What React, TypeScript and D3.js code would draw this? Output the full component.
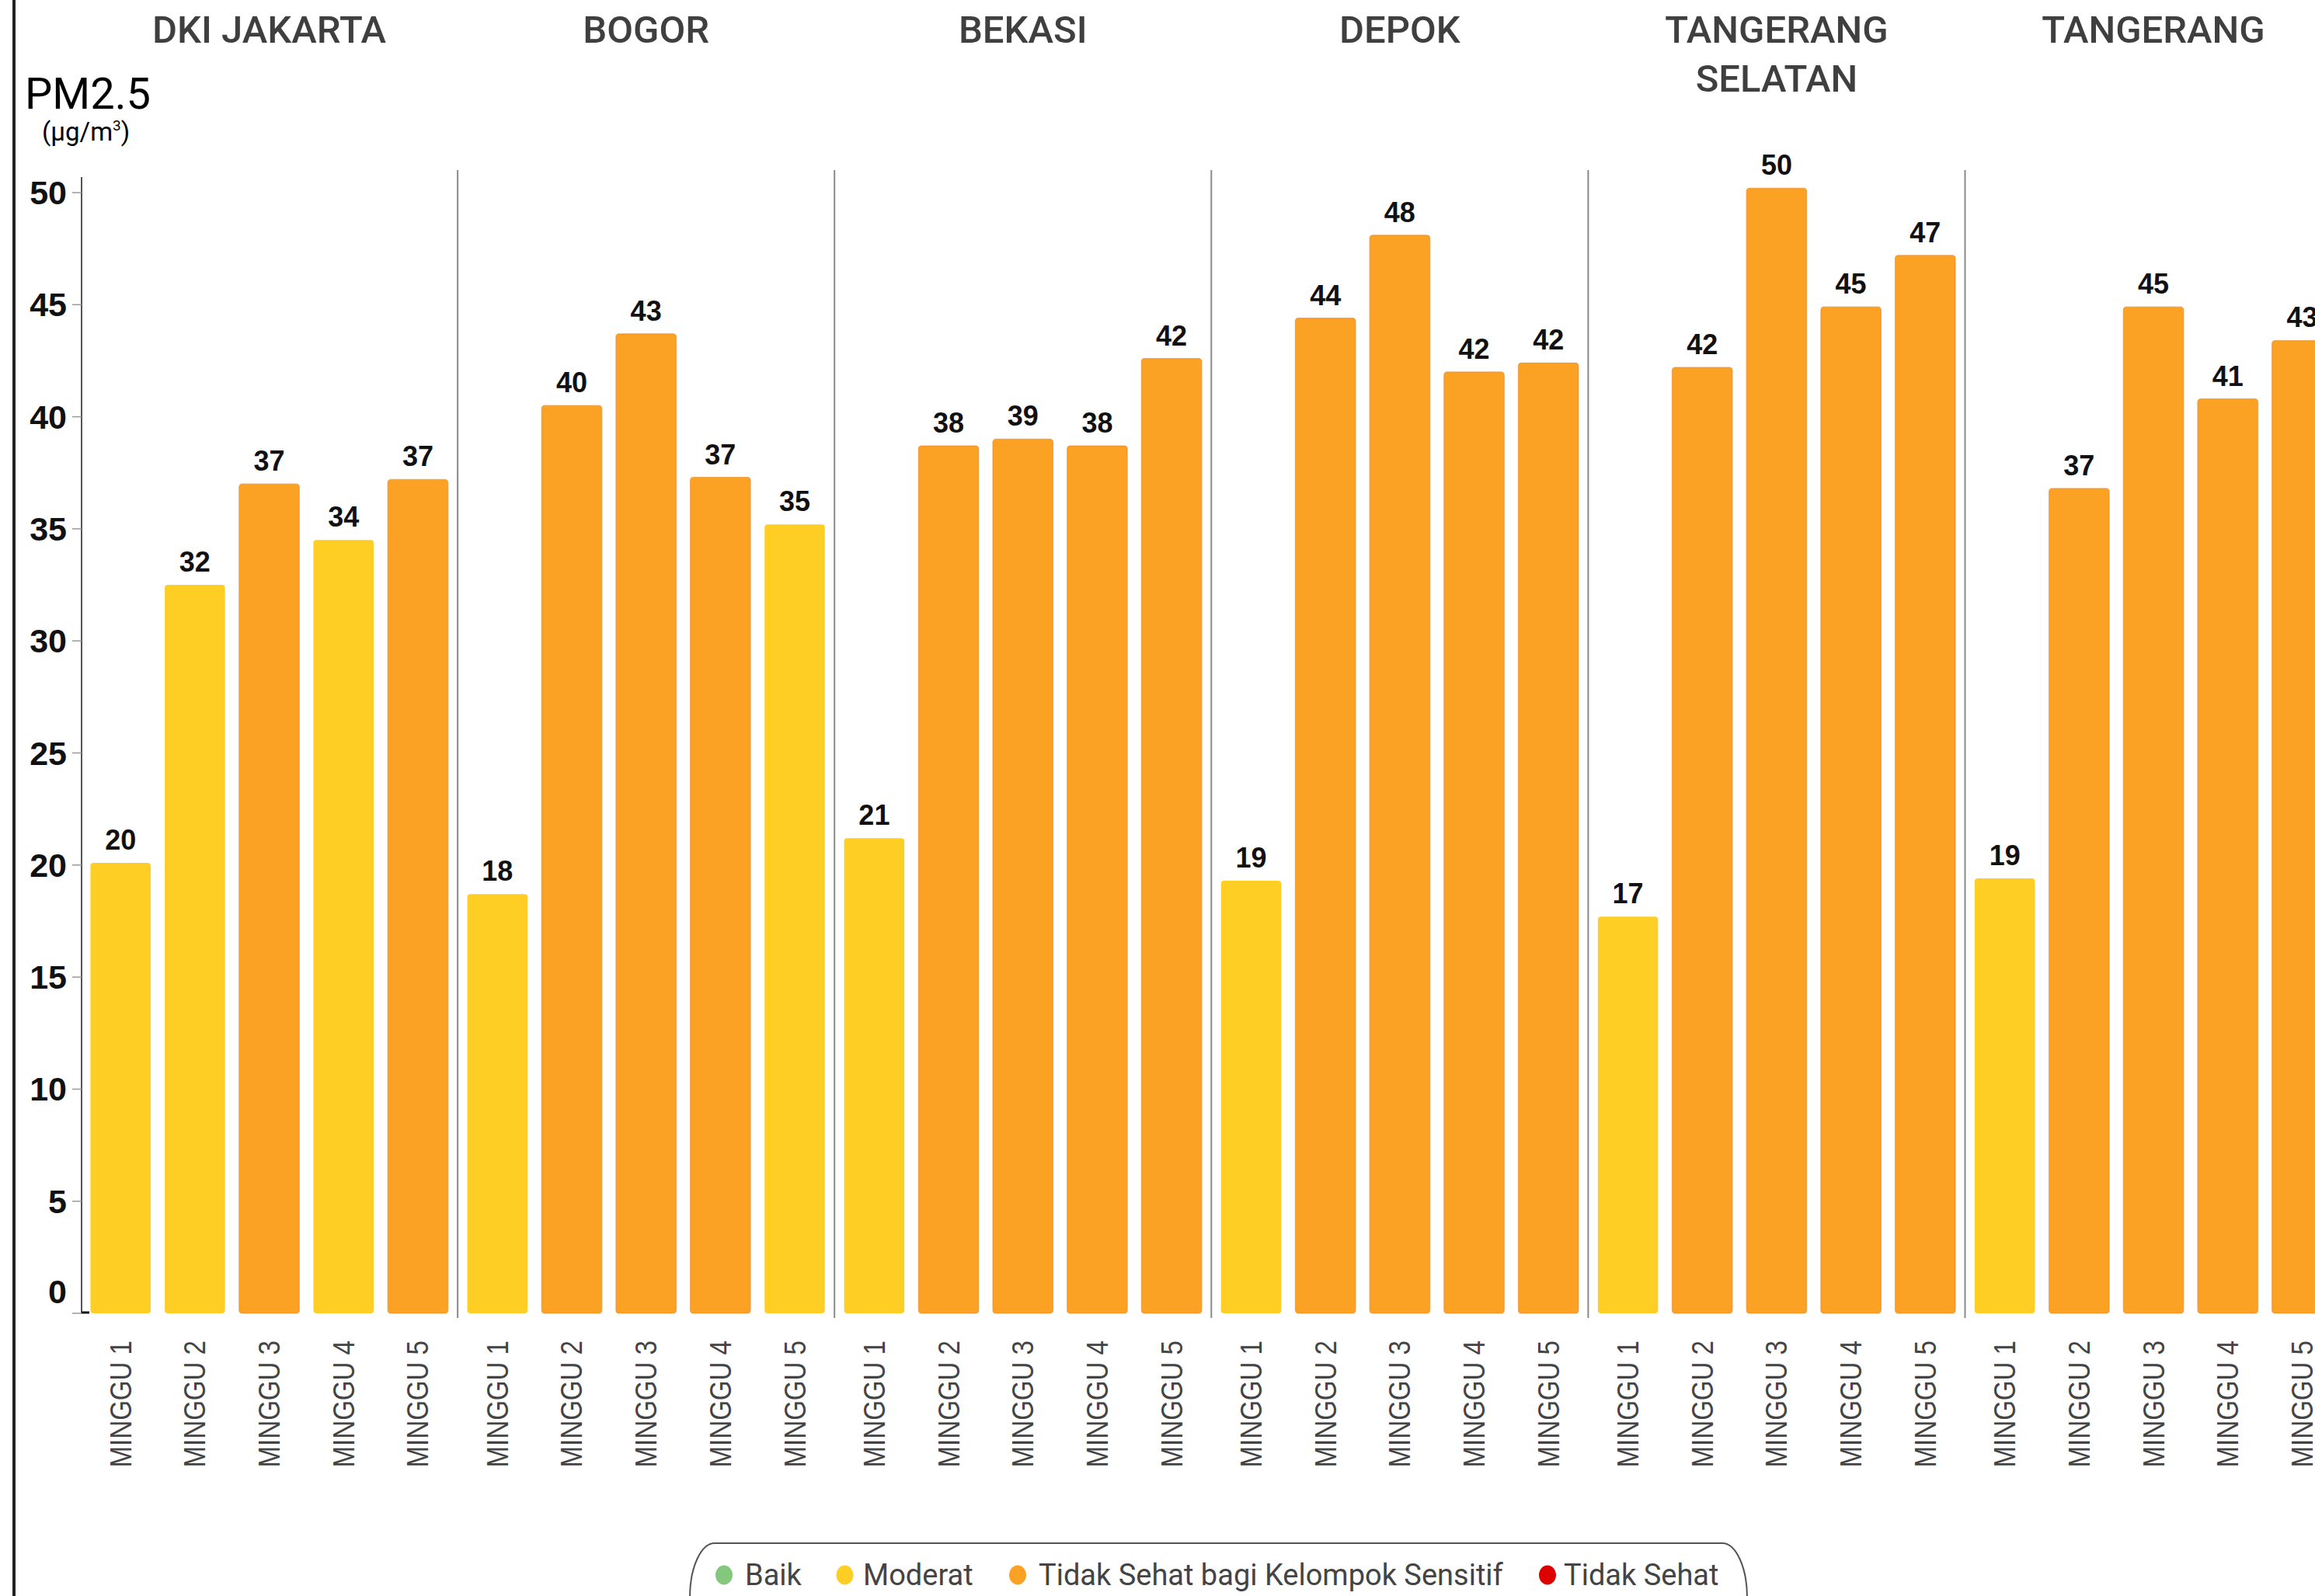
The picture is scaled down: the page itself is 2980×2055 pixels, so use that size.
import React from "react";
import * as d3 from "d3";

// ---------- data ----------
const cities = ["DKI JAKARTA", "BOGOR", "BEKASI", "DEPOK", "TANGERANG SELATAN", "TANGERANG"];
const cityTitleLines = [
  ["DKI JAKARTA"],
  ["BOGOR"],
  ["BEKASI"],
  ["DEPOK"],
  ["TANGERANG", "SELATAN"],
  ["TANGERANG"],
];
const weeks = ["MINGGU 1", "MINGGU 2", "MINGGU 3", "MINGGU 4", "MINGGU 5"];

const jakartaValues = [20.1, 32.5, 37.0, 34.5, 37.2];
const bogorValues = [18.7, 40.5, 43.7, 37.3, 35.2];
const bekasiValues = [21.2, 38.7, 39.0, 38.7, 42.6];
const depokValues = [19.3, 44.4, 48.1, 42.0, 42.4];
const tangselValues = [17.7, 42.2, 50.2, 44.9, 47.2];
const tangerangValues = [19.4, 36.8, 44.9, 40.8, 43.4];

const jakartaLabels = [20, 32, 37, 34, 37];
const bogorLabels = [18, 40, 43, 37, 35];
const bekasiLabels = [21, 38, 39, 38, 42];
const depokLabels = [19, 44, 48, 42, 42];
const tangselLabels = [17, 42, 50, 45, 47];
const tangerangLabels = [19, 37, 45, 41, 43];

const cityValues = [jakartaValues, bogorValues, bekasiValues, depokValues, tangselValues, tangerangValues];
const cityLabels = [jakartaLabels, bogorLabels, bekasiLabels, depokLabels, tangselLabels, tangerangLabels];

const yTicks = [0, 5, 10, 15, 20, 25, 30, 35, 40, 45, 50];

const categories = ["Baik", "Moderat", "Tidak Sehat bagi Kelompok Sensitif", "Tidak Sehat"];
const categoryThresholds = [15.5, 35.5, 55.5];
const categoryColors = ["#84C87F", "#FECE24", "#FBA124", "#DD0000"];

// ---------- layout ----------
const W = 2980;
const H = 2055;
const GROUP_W = 485.1;
const X0 = 104;
const legendMarkerX = [932, 1087.5, 1310, 1992];
const legendTextX = [959, 1111, 1337, 2013];

export default function App() {
  const xCity = d3
    .scaleBand<string>()
    .domain(cities)
    .range([X0, X0 + GROUP_W * cities.length])
    .padding(0);

  const xWeek = d3
    .scaleBand<string>()
    .domain(weeks)
    .range([0, xCity.bandwidth()])
    .paddingInner(0.19)
    .paddingOuter(0.13);

  const y = d3.scaleLinear().domain([0, 50]).range([1691, 248]);

  const colorOf = d3
    .scaleThreshold<number, string>()
    .domain(categoryThresholds)
    .range(categoryColors);

  const categoryIndexOf = d3
    .scaleThreshold<number, number>()
    .domain(categoryThresholds)
    .range([0, 1, 2, 3]);

  const axisX = 105;
  const titleFont = "Roboto, 'Noto Sans', sans-serif";
  const arialFont = "'Liberation Sans', Arial, sans-serif";

  return (
    <svg
      width={W}
      height={H}
      viewBox={`0 0 ${W} ${H}`}
      style={{ position: "absolute", left: 0, top: 0, display: "block", background: "#fff" }}
    >
      <rect x={0} y={0} width={W} height={H} fill="#ffffff" />

      {/* outer left border line */}
      <line x1={18} x2={18} y1={0} y2={H} stroke="#222" strokeWidth={4} />

      {/* y-axis title */}
      <text x={32} y={140} fontFamily={titleFont} fontSize={56} fill="#000">
        PM2.5
      </text>
      <text x={54} y={181} fontFamily={titleFont} fontSize={33} fill="#000">
        (µg/m
        <tspan fontSize={19} dy={-13}>
          3
        </tspan>
        <tspan dy={13}>)</tspan>
      </text>

      {/* group titles */}
      {cities.map((c, i) => {
        const cx = (xCity(c) as number) + xCity.bandwidth() / 2;
        return (
          <text
            key={c}
            x={cx}
            y={55}
            textAnchor="middle"
            fontFamily={titleFont}
            fontWeight={500}
            fontSize={49}
            fill="#3f3f3f"
          >
            {cityTitleLines[i].map((line, k) => (
              <tspan key={k} x={cx} dy={k === 0 ? 0 : 63}>
                {line}
              </tspan>
            ))}
          </text>
        );
      })}

      {/* y axis */}
      <line x1={axisX} x2={axisX} y1={228} y2={y(0)} stroke="#555" strokeWidth={2} />
      {yTicks.map((t) => (
        <g key={t}>
          <line x1={axisX - 12} x2={axisX} y1={y(t)} y2={y(t)} stroke="#999" strokeWidth={1.5} />
          <text
            x={86}
            y={y(t)}
            dy={t === 0 ? -28 : 0}
            textAnchor="end"
            dominantBaseline="central"
            fontFamily={arialFont}
            fontWeight={700}
            fontSize={43}
            fill="#111"
          >
            {t}
          </text>
        </g>
      ))}
      <line x1={axisX} x2={axisX + 10} y1={y(0) - 1} y2={y(0) - 1} stroke="#111" strokeWidth={3} />

      {/* group separators */}
      {cities.slice(1).map((c) => (
        <line
          key={c}
          x1={xCity(c) as number}
          x2={xCity(c) as number}
          y1={219}
          y2={1697}
          stroke="#8a8a8a"
          strokeWidth={2}
        />
      ))}

      {/* bars */}
      {cities.map((c, ci) => {
        const gx = xCity(c) as number;
        return (
          <g key={c} transform={`translate(${gx},0)`}>
            {weeks.map((w, wi) => {
              const v = cityValues[ci][wi];
              const bx = xWeek(w) as number;
              const bw = xWeek.bandwidth();
              const col = colorOf(v);
              const isOrange = categoryIndexOf(v) === 2;
              return (
                <g key={w}>
                  <rect
                    x={bx}
                    y={y(v)}
                    width={bw}
                    height={y(0) - y(v)}
                    rx={4}
                    ry={4}
                    fill={col}
                    stroke={isOrange ? "#E9872F" : "none"}
                    strokeOpacity={0.6}
                    strokeWidth={1.2}
                  />
                  <text
                    x={bx + bw / 2}
                    y={y(v) - 17}
                    textAnchor="middle"
                    fontFamily={arialFont}
                    fontWeight={700}
                    fontSize={36}
                    fill="#111"
                  >
                    {cityLabels[ci][wi]}
                  </text>
                  <text
                    transform={`translate(${bx + bw / 2 + 13.5},1726) rotate(-90) scale(0.87,1)`}
                    textAnchor="end"
                    fontFamily={arialFont}
                    fontSize={38}
                    fill="#444"
                  >
                    {w}
                  </text>
                </g>
              );
            })}
          </g>
        );
      })}

      {/* legend */}
      <rect
        x={888}
        y={1987}
        width={1361}
        height={140}
        rx={32}
        ry={70}
        fill="#fff"
        stroke="#555"
        strokeWidth={2}
      />
      {categories.map((cat, i) => (
        <g key={cat}>
          <ellipse cx={legendMarkerX[i]} cy={2028} rx={11} ry={12.5} fill={categoryColors[i]} />
          <text x={legendTextX[i]} y={2041} fontFamily={titleFont} fontSize={38} fill="#444">
            {cat}
          </text>
        </g>
      ))}
    </svg>
  );
}
